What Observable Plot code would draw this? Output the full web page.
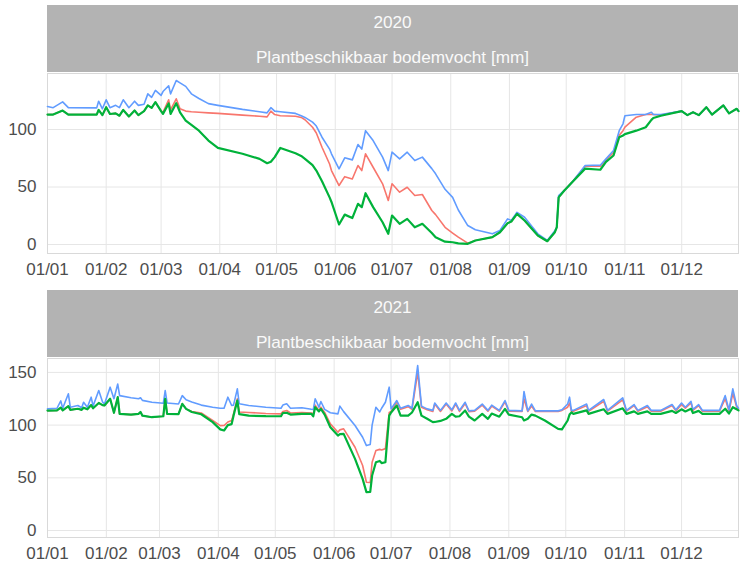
<!DOCTYPE html>
<html>
<head>
<meta charset="utf-8">
<script src="https://cdn.jsdelivr.net/npm/d3@7"></script>
<script src="https://cdn.jsdelivr.net/npm/@observablehq/plot@0.6"></script>
<style>
  html, body { margin: 0; padding: 0; background: #fff; }
  #wrap { position: relative; width: 743px; height: 570px; font-family: "Liberation Sans", Arial, sans-serif; }
  .panel { position: absolute; left: 0; }
  .strip { position: absolute; left: 47px; width: 691px; height: 67px; background: #b3b3b3; color: #fafafa; font-size: 17.2px; text-align: center; }
  .strip div { position: absolute; left: 0; right: 0; line-height: 20px; }
</style>
</head>
<body>
<div id="wrap"></div>
<script>
// ---- data ----
const years = ["2020", "2021"];
const stripTitle = "Plantbeschikbaar bodemvocht [mm]";
const monthTicks = ["01-01","02-01","03-01","04-01","05-01","06-01","07-01","08-01","09-01","10-01","11-01","12-01"];
const seriesNames = ["blauw", "rood", "groen"];
const seriesColors = ["#619CFF", "#F8766D", "#00B23A"];

const dates2020 = ["01-01","01-04","01-09","01-12","01-27","01-28","01-30","02-01","02-03","02-06","02-08","02-10","02-13","02-16","02-18","02-21","02-23","02-25","02-27","03-01","03-02","03-05","03-06","03-09","03-11","03-14","03-17","03-21","03-26","03-31","04-13","04-22","04-26","04-28","04-30","05-03","05-11","05-14","05-16","05-20","05-22","05-25","05-29","05-30","06-03","06-06","06-10","06-13","06-15","06-17","06-21","06-26","06-29","07-01","07-05","07-09","07-13","07-17","07-22","07-24","07-29","08-02","08-05","08-10","08-14","08-23","08-27","08-31","09-02","09-05","09-09","09-16","09-21","09-25","09-26","09-27","09-30","10-04","10-11","10-19","10-22","10-26","10-29","10-31","11-01","11-07","11-12","11-15","11-16","11-20","12-01","12-04","12-07","12-10","12-14","12-17","12-23","12-26","12-30","12-31"];
const blue2020 = [120,119,124,119,118.8,124.6,118,125.8,119,121,119,125.8,119,124.6,121,122,131,128,134,129.6,133,138,131,142.6,140.5,137.5,131,127,122.5,121,117.5,115.5,114.5,119,116,115.5,114,112,110.5,106.4,103,93.3,83,78.9,65.8,75.4,73.6,87,83,99,90.4,76,64.3,80.3,74.5,80.3,73,76,66,61.5,48,41,30,16.5,12.8,9.3,12.2,22.3,21,28,23.7,9.3,3.5,12,15,42.6,47,54,68.7,69,74.5,81.7,99,105,112,113,113,115,113,113,116,112.5,115,112.5,119.4,113,121,114,118,116];
const red2020 = [113,113,116.5,113,113,117,112.5,119.4,113.5,114,112,117,111.3,116.5,112.5,116,121,118.8,123.8,116,115,125.8,117,126.7,118,116,115.5,115,114.5,114,112.5,111.5,111,116,113,112,111.5,110.5,108.5,102,97,84.6,70,64.3,51.3,59,57,68.7,64.3,78.9,67.2,52.8,38.3,52.8,45.5,49.8,42.6,43.5,29.6,26,15,10,6.4,1.2,3.5,6.4,10.7,18.5,20,26.7,20.9,7.8,2.9,10.7,15,41,47,54,68,68,73.5,80,95,99,102,110.7,113,113,113,112.5,116,112.5,115,112.5,119.4,113,121,114,118,116];
const green2020 = [113,113,116.5,113,113,117,112.5,119.4,113.5,114,112,117,111.3,116.5,112.5,116,121,118.8,123.8,116,113.6,122.6,113.6,122.9,115,107.8,104,99,90.4,84,78.9,74.5,70.7,72,76,84,79.4,77,74.5,69,64.3,55,41,37,17.4,26,23,35.4,32.5,44.6,32.5,19.4,9.3,25.2,18,22.3,15,18,10,6.4,2.5,2,1,0.6,3.5,6.4,10.7,18.5,20,26.7,20.9,7.8,2.9,10.7,15,41,47,54,66,65,71.8,77.4,93.3,94.8,96,99,102,108.4,110,112,116,112.5,115,112.5,119.4,113,121,114,118,116];

const dates2021 = ["01-01","01-06","01-08","01-09","01-12","01-13","01-17","01-19","01-20","01-22","01-24","01-25","01-28","01-30","01-31","02-03","02-05","02-07","02-08","02-14","02-18","02-19","02-20","02-25","03-03","03-04","03-05","03-11","03-13","03-15","03-18","03-23","03-29","04-02","04-04","04-06","04-08","04-09","04-11","04-12","04-17","04-26","05-04","05-05","05-07","05-09","05-15","05-20","05-21","05-22","05-24","05-25","05-27","05-30","06-03","06-04","06-06","06-12","06-16","06-18","06-20","06-21","06-23","06-25","06-26","06-28","06-30","07-01","07-04","07-06","07-10","07-12","07-15","07-17","07-20","07-23","07-24","07-27","07-30","08-02","08-04","08-06","08-09","08-11","08-14","08-18","08-21","08-23","08-27","08-30","09-01","09-08","09-09","09-11","09-13","09-15","09-20","09-27","09-29","10-02","10-03","10-04","10-05","10-12","10-13","10-21","10-23","10-31","11-02","11-06","11-08","11-13","11-15","11-20","11-26","11-28","12-01","12-03","12-06","12-07","12-10","12-12","12-21","12-24","12-26","12-28","12-30","12-31"];
const blue2021 = [115.4,116,123,116,129.7,117,118.6,116.5,121.7,117,126.5,118,132.8,122,120,136,125,139,128,126,125,126,123.5,121.7,120.7,132.8,121,120,128,124,122,119,117,116,116,126.5,118.6,119,134.4,120.2,118.6,117,116,119,120.2,116,116.5,115,114.8,125,117,122.4,115,111.7,110.7,118,112.8,99.6,88.5,80.6,81.6,100,117,112.5,116,121.7,136,115.4,123.3,116,118.6,116,156.5,118,115.4,114,121,114,121,114.5,121,114,121.7,113.5,114,120,114,119,114,123.3,114,113.5,131.9,113.5,120,113.5,113.5,113.5,114.5,120,126.5,114,114,120,114,124.3,114,125.9,114,119.5,114,118.6,114,114,119.5,114.5,121,117,122.5,115,119.5,114,114,128,114.5,134.4,118.6,116];
const red2021 = [113.8,114,116.6,114,118,114.5,115.5,114.5,116.5,115,119,116,121,119,118.6,125,111.7,126.5,110.7,110,110.7,112.5,109,107.5,108.4,125,110.7,110.5,120.2,115.4,113,111.5,104.5,99.5,99.6,103,104.4,110.7,125,112.5,112,111,110.7,113,113.9,111.5,112,111.5,110.5,119,114,117,112,101.2,93.3,95.5,96.5,79,61.7,45.8,45.5,64.8,75.9,77,76.5,77.7,112,113,122,115,117.5,115,150,117,114.5,113,120,113,120,113.5,120,113,120.5,112.8,113.2,119,113.2,118,113.2,122,113.2,113,125,113,118,113,113,113,114,117,121,113.2,113.2,118.5,113.2,122.5,113.2,124,113.2,118.5,113.2,117.5,113.2,113.2,118.5,113.5,119.5,116,121,114,118.5,113.2,113.2,125,113.5,130,117.5,115];
const green2021 = [113.8,114,116.6,114,118,114.5,115.5,114.5,116.5,115,119,116,121,119,118.6,125,111.7,126.5,110.7,110,110.7,112.5,109,107.5,108.4,125,110.7,110.5,120.2,115.4,112.5,110.3,102.8,96,94.9,100,101,109,123.3,110.5,109,108.5,108.4,111.5,111.7,110,110.7,110.7,108.4,117,113,115.4,110,98,90.1,91.5,91.7,68,49,36.4,36.7,52.2,64.8,66,64,64.8,109,112,118.6,109,109,112,121.7,109,106,102.8,103,104,106,110.7,108,108.4,113.9,108,104.4,110.7,106,111,108,115.4,110,107.5,104.4,106,110,109,104.4,96.5,96,104.4,110,112,110.7,114,110.7,115,110.7,116,110.7,113,110.7,113,110.7,110.7,113.5,111.5,115,113,115.5,111.5,113.5,110.7,110.7,115.5,111,117,115,114];

const yTicks2020 = [0, 50, 100];
const yTicks2021 = [0, 50, 100, 150];
const yDomain2020 = [-7.8, 148.7];
const yDomain2021 = [-6.6, 163.2];

// ---- build ----
const wrap = document.getElementById("wrap");
const fmt = d3.utcFormat("%d/%m");

function panel(year, dates, seriesVals, yDomain, yTicks, top, marginBottom) {
  const toDate = s => new Date(`${year}-${s}T00:00:00Z`);
  const months = monthTicks.map(toDate);
  const table = [];
  seriesVals.forEach((vals, k) => {
    dates.forEach((d, i) => table.push({date: toDate(d), value: vals[i], series: seriesNames[k]}));
  });
  const order = ["rood", "blauw", "groen"];
  const widths = {blauw: 1.6, rood: 1.6, groen: 2.2};
  const svg = Plot.plot({
    width: 743,
    height: 285,
    marginLeft: 47,
    marginRight: 5,
    marginTop: 73,
    marginBottom,
    style: {fontFamily: '"Liberation Sans", Arial, sans-serif', fontSize: "17px", color: "#4d4d4d", background: "#fff"},
    x: {type: "utc", domain: [toDate("01-01"), toDate("12-31")], ticks: months, tickFormat: fmt, tickSize: 0, tickPadding: 9, label: null},
    y: {domain: yDomain, ticks: yTicks, tickSize: 0, tickPadding: 11, label: null},
    color: {domain: seriesNames, range: seriesColors},
    marks: [
      Plot.ruleX(months, {stroke: "#e6e6e6", strokeWidth: 1}),
      Plot.ruleY(yTicks, {stroke: "#e6e6e6", strokeWidth: 1}),
      Plot.frame({stroke: "#d9d9d9"}),
      ...order.map(s => Plot.line(table.filter(r => r.series === s), {x: "date", y: "value", stroke: "series", strokeWidth: widths[s], curve: "linear"}))
    ]
  });
  const box = document.createElement("div");
  box.className = "panel";
  box.style.top = top + "px";
  box.appendChild(svg);
  wrap.appendChild(box);

  const strip = document.createElement("div");
  strip.className = "strip";
  strip.style.top = (top + 5) + "px";
  const l1 = document.createElement("div");
  l1.style.top = "7px";
  l1.textContent = year;
  const l2 = document.createElement("div");
  l2.style.top = "42px";
  l2.textContent = stripTitle;
  strip.appendChild(l1);
  strip.appendChild(l2);
  wrap.appendChild(strip);
}

panel(years[0], dates2020, [blue2020, red2020, green2020], yDomain2020, yTicks2020, 0, 32);
panel(years[1], dates2021, [blue2021, red2021, green2021], yDomain2021, yTicks2021, 285, 33);
</script>
</body>
</html>
